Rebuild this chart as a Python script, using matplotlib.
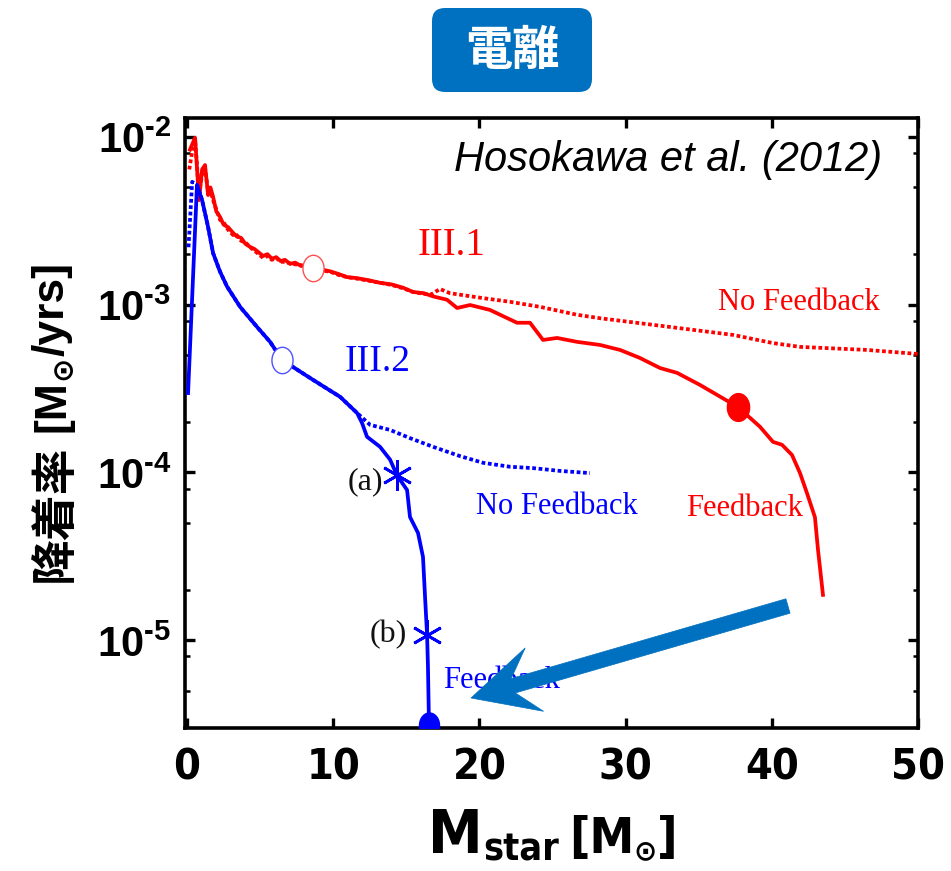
import numpy as np
import matplotlib
matplotlib.use("Agg")
import matplotlib.pyplot as plt
from matplotlib.path import Path
from matplotlib.patches import FancyBboxPatch, Polygon
from matplotlib.transforms import IdentityTransform
from matplotlib.ticker import FixedLocator, LogLocator, NullFormatter, FixedFormatter

# ---------------- data ----------------
x_ticks = [0, 10, 20, 30, 40, 50]
x_tick_labels = ["0", "10", "20", "30", "40", "50"]
y_ticks = [1e-2, 1e-3, 1e-4, 1e-5]
y_tick_labels = [r"$\mathbf{10^{\text{-}2}}$", r"$\mathbf{10^{\text{-}3}}$",
                 r"$\mathbf{10^{\text{-}4}}$", r"$\mathbf{10^{\text{-}5}}$"]

# III.1 with feedback (red solid)
red_fb_mass = [0.2, 0.55, 0.82, 1.03, 1.23, 1.44, 1.6, 1.78, 2.0, 2.26, 2.5, 2.8,
               3.15, 3.4, 3.7, 4.0, 4.31, 4.6, 4.9, 5.2, 5.5, 5.8, 6.1, 6.4, 6.7,
               7.05, 7.4, 7.8, 8.2, 8.62, 9.2, 9.8, 10.4, 10.94, 11.6, 12.4, 13.2,
               14.0, 14.8, 15.46, 16.2, 16.83, 17.78, 18.47, 19.36, 20.72, 22.57,
               23.46, 24.35, 25.31, 26.68, 28.25, 29.62, 30.98, 32.35, 33.52,
               35.09, 37.69, 39.19, 40.08, 40.70, 41.38, 41.93, 42.41, 42.95,
               43.16, 43.50]
red_fb_rate = [8.4e-3, 9.9e-3, 4.2e-3, 6.4e-3, 6.8e-3, 4.5e-3, 5.0e-3, 4.4e-3,
               3.6e-3, 3.33e-3, 3.0e-3, 2.9e-3, 2.68e-3, 2.55e-3, 2.5e-3, 2.3e-3,
               2.21e-3, 2.15e-3, 2.05e-3, 1.95e-3, 2.0e-3, 1.88e-3, 1.92e-3,
               1.82e-3, 1.85e-3, 1.75e-3, 1.78e-3, 1.70e-3, 1.72e-3, 1.66e-3,
               1.62e-3, 1.58e-3, 1.52e-3, 1.46e-3, 1.44e-3, 1.40e-3, 1.35e-3,
               1.32e-3, 1.26e-3, 1.19e-3, 1.17e-3, 1.12e-3, 1.07e-3, 9.55e-4,
               9.95e-4, 9.3e-4, 7.8e-4, 7.8e-4, 6.16e-4, 6.33e-4, 6.0e-4, 5.75e-4,
               5.37e-4, 4.81e-4, 4.19e-4, 3.92e-4, 3.32e-4, 2.45e-4, 1.87e-4,
               1.52e-4, 1.46e-4, 1.27e-4, 9.9e-5, 7.5e-5, 5.4e-5, 3.45e-5, 1.86e-5]

# III.1 without feedback (red dotted)
red_nofb_mass = [0.15, 0.4, 0.55, 0.82, 1.03, 1.23, 1.44, 1.6, 1.78, 2.0, 2.26,
                 2.5, 2.8, 3.15, 3.4, 3.7, 4.0, 4.31, 4.6, 4.9, 5.2, 5.5, 5.8,
                 6.1, 6.4, 6.7, 7.05, 7.4, 7.8, 8.2, 8.62, 9.2, 9.8, 10.4, 10.94,
                 11.6, 12.4, 13.2, 14.0, 14.8, 15.46, 16.2, 16.7, 17.3, 17.99,
                 20.04, 22.09, 24.15, 26.68, 28.25, 32.83, 37.35, 40.08, 41.93,
                 46.51, 50.0]
red_nofb_rate = [6.4e-3, 8.7e-3, 9.6e-3, 4.6e-3, 6.0e-3, 6.5e-3, 4.7e-3, 4.8e-3,
                 4.2e-3, 3.7e-3, 3.2e-3, 3.1e-3, 2.8e-3, 2.6e-3, 2.6e-3, 2.4e-3,
                 2.35e-3, 2.2e-3, 2.1e-3, 2.0e-3, 1.9e-3, 1.95e-3, 1.85e-3,
                 1.9e-3, 1.8e-3, 1.8e-3, 1.76e-3, 1.74e-3, 1.72e-3, 1.68e-3,
                 1.66e-3, 1.60e-3, 1.57e-3, 1.50e-3, 1.46e-3, 1.43e-3, 1.39e-3,
                 1.35e-3, 1.31e-3, 1.25e-3, 1.19e-3, 1.16e-3, 1.15e-3, 1.24e-3,
                 1.17e-3, 1.10e-3, 1.04e-3, 9.7e-4, 8.7e-4, 8.3e-4, 7.4e-4, 6.6e-4,
                 5.9e-4, 5.6e-4, 5.37e-4, 5.08e-4]

# III.2 with feedback (blue solid)
blue_fb_mass = [0.07, 0.68, 1.03, 1.44, 1.78, 2.26, 2.74, 3.63, 4.79, 5.68, 6.50,
                8.62, 10.47, 11.63, 11.97, 12.31, 13.2, 13.89, 14.36, 15.05, 15.25,
                15.80, 16.14, 16.28, 16.42, 16.48, 16.55]
blue_fb_rate = [2.97e-4, 5.18e-3, 4.2e-3, 2.9e-3, 2.03e-3, 1.57e-3, 1.28e-3,
                9.7e-4, 7.36e-4, 6.0e-4, 4.68e-4, 3.56e-4, 2.82e-4, 2.26e-4,
                1.97e-4, 1.63e-4, 1.42e-4, 1.19e-4, 9.6e-5, 7.85e-5, 5.42e-5,
                4.35e-5, 3.13e-5, 1.81e-5, 1.07e-5, 6.9e-6, 3.12e-6]

# III.2 without feedback (blue dotted)
blue_nofb_mass = [0.1, 0.35, 0.68, 1.03, 1.44, 1.78, 2.26, 2.74, 3.63, 4.79, 5.68,
                  6.50, 8.62, 10.47, 11.63, 12.52, 13.89, 15.25, 16.83, 18.67,
                  20.25, 22.09, 23.67, 25.51, 27.56]
blue_nofb_rate = [2.2e-3, 5.4e-3, 5.18e-3, 4.2e-3, 2.9e-3, 2.03e-3, 1.57e-3,
                  1.28e-3, 9.7e-4, 7.36e-4, 6.0e-4, 4.68e-4, 3.56e-4, 2.82e-4,
                  2.26e-4, 1.92e-4, 1.79e-4, 1.60e-4, 1.42e-4, 1.25e-4, 1.14e-4,
                  1.08e-4, 1.06e-4, 1.02e-4, 9.9e-5]

# marked epochs
red_open_pt = (8.62, 1.66e-3)
red_end_pt = (37.69, 2.45e-4)
blue_open_pt = (6.50, 4.68e-4)
blue_star_a = (14.36, 9.6e-5)
blue_star_b = (16.42, 1.07e-5)
blue_end_pt = (16.55, 3.12e-6)

# ---------------- style ----------------
plt.rcParams["mathtext.fontset"] = "custom"
plt.rcParams["mathtext.rm"] = "Liberation Sans:bold"
plt.rcParams["mathtext.bf"] = "Liberation Sans:bold"
plt.rcParams["mathtext.it"] = "Liberation Sans:bold"

RED = "#ff0000"
BLUE = "#0000ff"
ACCENT = "#0070c0"
W, H = 951, 871
SERIF = ["Liberation Serif", "DejaVu Serif"]
SANS = ["Liberation Sans", "DejaVu Sans"]
COND = dict(family=["DejaVu Sans"], weight="bold", stretch="condensed",
            color="black")

fig = plt.figure(figsize=(W / 100, H / 100), dpi=100, facecolor="white")
ax = fig.add_axes([185 / W, 1 - 728 / H, (918 - 185) / W, (728 - 118) / H])
ax.set_yscale("log")
ax.set_xlim(-0.14, 50)
ax.set_ylim(2.99e-6, 1.297e-2)

# ellipse-shaped marker (slightly taller than wide)
t = np.linspace(0, 2 * np.pi, 60)
ell = Path(np.column_stack([0.8 * np.cos(t), np.sin(t)]), closed=True)

dot = (0, (1.0, 0.7))
ax.plot(red_nofb_mass, red_nofb_rate, color=RED, lw=2.7, ls=dot, zorder=3)
ax.plot(red_fb_mass, red_fb_rate, color=RED, lw=2.7, zorder=3)
ax.plot(blue_nofb_mass, blue_nofb_rate, color=BLUE, lw=2.7, ls=dot, zorder=3)
ax.plot(blue_fb_mass, blue_fb_rate, color=BLUE, lw=2.7, zorder=3)

ax.plot(*red_open_pt, marker=ell, ms=19, mfc="white", mec="#ff5050", mew=1.0,
        zorder=5)
ax.plot(*blue_open_pt, marker=ell, ms=19, mfc="white", mec="#5050ff", mew=1.0,
        zorder=5)
ax.plot(*red_end_pt, marker=ell, ms=20, mfc=RED, mec=RED, zorder=5)
ax.plot(*blue_end_pt, marker=ell, ms=18, mfc=BLUE, mec=BLUE, zorder=5)
for pt in (blue_star_a, blue_star_b):
    ax.plot(*pt, marker=(6, 2, 0), ms=22, mec=BLUE, mew=2.0, zorder=5)

# axes frame and ticks
for s in ax.spines.values():
    s.set_linewidth(2.6)
ax.xaxis.set_major_locator(FixedLocator(x_ticks))
ax.xaxis.set_major_formatter(FixedFormatter(x_tick_labels))
ax.yaxis.set_major_locator(FixedLocator(y_ticks))
ax.yaxis.set_major_formatter(FixedFormatter(y_tick_labels))
ax.yaxis.set_minor_locator(LogLocator(base=10, subs=[2, 5, 8]))
ax.yaxis.set_minor_formatter(NullFormatter())
ax.tick_params(which="both", direction="in", top=True, right=True)
ax.tick_params(which="major", length=7.5, width=2.4)
ax.tick_params(which="minor", length=3.5, width=1.8)
ax.tick_params(axis="x", pad=13)
ax.tick_params(axis="y", pad=10)
for lab in ax.get_xticklabels():
    lab.set_family(COND["family"])
    lab.set_weight("bold")
    lab.set_stretch("condensed")
    lab.set_fontsize(31)
for lab in ax.get_yticklabels():
    lab.set_fontsize(30)

# curve annotations
def atext(px, py, s, color, size, ha="left", **kw):
    ax.text((px - 185) / 733, (728 - py) / 610, s, transform=ax.transAxes,
            color=color, fontsize=size, ha=ha, va="center", family=SERIF, **kw)

atext(418, 245, "III.1", RED, 28)
atext(718, 302, "No Feedback", RED, 22)
atext(345, 362, "III.2", BLUE, 27)
atext(383, 482, "(a)", "#111111", 23, ha="right")
atext(476, 507, "No Feedback", BLUE, 22)
atext(686, 508, "Feedback", RED, 22)
atext(407, 635, "(b)", "#111111", 23, ha="right")
atext(443, 680, "Feedback", BLUE, 22)
ax.text((882 - 185) / 733, (728 - 160) / 610, "Hosokawa et al. (2012)",
        transform=ax.transAxes, ha="right", va="center", fontsize=30,
        style="italic", family=SANS, color="black")

# heading badge
ident = IdentityTransform()
badge = FancyBboxPatch((432, H - 92), 160, 84,
                       boxstyle="round,pad=0,rounding_size=13",
                       transform=ident, facecolor=ACCENT, edgecolor="none")
fig.add_artist(badge)
fig.text(512, H - 51, "電離", transform=ident, ha="center", va="center",
         color="white", fontsize=34, weight="bold",
         family=["Noto Sans CJK JP", "DejaVu Sans"])

# pointer arrow
tail = np.array([788.0, 606.0])
tip = np.array([471.0, 698.0])
u = (tip - tail) / np.hypot(*(tip - tail))
n = np.array([-u[1], u[0]])
hw, neck, head_len, head_half = 7.5, 44.0, 66.0, 33.0
pts = [tail + n * hw, tip - u * neck + n * hw, tip - u * head_len + n * head_half,
       tip, tip - u * head_len - n * head_half, tip - u * neck - n * hw,
       tail - n * hw]
pts = [(p[0], H - p[1]) for p in pts]
fig.add_artist(Polygon(pts, closed=True, transform=ident, facecolor=ACCENT,
                       edgecolor=ACCENT, lw=0.5, zorder=10))

# axis titles made of runs with sub-scripted pieces
fig.canvas.draw()
renderer = fig.canvas.get_renderer()


def text_run(pieces, center, base, vertical=False):
    def make(s, kw, pos, shift):
        if vertical:
            return fig.text(base + shift, pos, s, rotation=90,
                            rotation_mode="anchor", ha="left", va="baseline",
                            transform=ident, **kw)
        return fig.text(pos, base - shift, s, ha="left", va="baseline",
                        transform=ident, **kw)

    sizes = []
    for s, kw, shift in pieces:
        if s is None:
            sizes.append(kw)
            continue
        tt = make(s, kw, 0, 0)
        bb = tt.get_window_extent(renderer)
        sizes.append(bb.height if vertical else bb.width)
        tt.remove()
    pos = center - sum(sizes) / 2
    for (s, kw, shift), sz in zip(pieces, sizes):
        if s is not None:
            make(s, kw, pos, shift)
        pos += sz


text_run([("M", dict(COND, fontsize=44), 0),
          ("star", dict(COND, fontsize=27), 7),
          (None, 10, 0),
          ("[M", dict(COND, fontsize=36), 0),
          ("⊙", dict(family=["DejaVu Sans"], weight="bold", fontsize=20,
                     color="black"), 6),
          ("]", dict(COND, fontsize=36), 0)],
         center=553, base=H - 853)

bold_sans = dict(family=SANS, weight="bold", color="black")
text_run([("降着率", dict(family=["Noto Sans CJK JP", "DejaVu Sans"],
                        weight="bold", fontsize=33, color="black"), 4),
          (None, 12, 0),
          ("[M", dict(bold_sans, fontsize=32), 0),
          ("⊙", dict(family=["DejaVu Sans"], weight="bold", fontsize=21,
                     color="black"), 7),
          ("/yrs]", dict(bold_sans, fontsize=32), 0)],
         center=H - 422, base=64, vertical=True)

fig.savefig("out.png", dpi=100, facecolor="white")
